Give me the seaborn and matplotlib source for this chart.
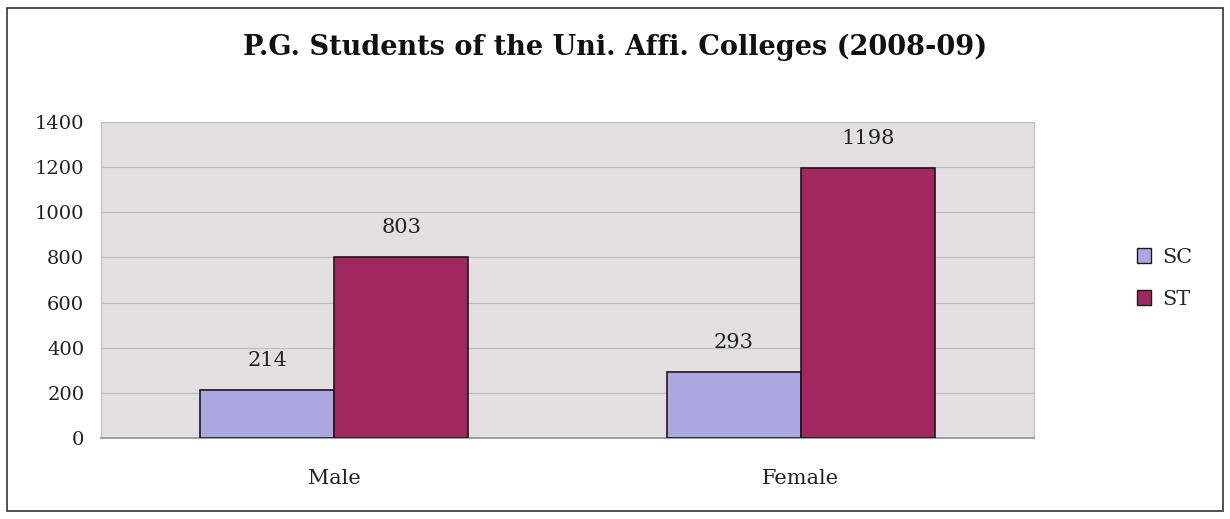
import matplotlib
matplotlib.use("Agg")
import matplotlib.pyplot as plt
import seaborn as sns
import pandas as pd
from matplotlib.patches import Rectangle

categories = ["Male", "Female"]
series_names = ["SC", "ST"]
sc_values = [214, 293]
st_values = [803, 1198]
y_ticks = [0, 200, 400, 600, 800, 1000, 1200, 1400]
title = "P.G. Students of the Uni. Affi. Colleges (2008-09)"

df = pd.DataFrame({
    "Gender": categories * 2,
    "Group": [series_names[0]] * 2 + [series_names[1]] * 2,
    "Count": sc_values + st_values,
})

sns.set_theme(style="white")
plt.rcParams["font.family"] = ["DejaVu Serif"]

fig = plt.figure(figsize=(12.3, 5.19), dpi=100)
ax = fig.add_axes([0.0821, 0.156, 0.7586, 0.609])

palette = {"SC": "#aaa8de", "ST": "#a0285f"}
sns.barplot(data=df, x="Gender", y="Count", hue="Group", order=categories,
            hue_order=series_names, palette=palette, width=0.575,
            edgecolor="#1a1a1a", linewidth=1.2, saturation=1, ax=ax, zorder=3)

ax.set_facecolor("#e2dee2")
ax.set_ylim(0, 1400)
ax.set_yticks(y_ticks)
ax.set_xlim(-0.5, 1.5)
ax.yaxis.grid(True, color="#bdbab8", linewidth=0.8, zorder=0)
ax.set_axisbelow(True)
for s in ["top", "right", "left"]:
    ax.spines[s].set_visible(True)
    ax.spines[s].set_color("#c0bcc0")
    ax.spines[s].set_linewidth(0.8)
ax.spines["bottom"].set_color("#909090")
ax.spines["bottom"].set_linewidth(1.2)
ax.tick_params(axis="y", labelsize=14, colors="#222222", length=0, pad=12)
ax.tick_params(axis="x", labelsize=15, colors="#222222", length=0, pad=22)
ax.set_xlabel("")
ax.set_ylabel("")

for cont in ax.containers:
    ax.bar_label(cont, fmt="%d", padding=14, fontsize=15, color="#222222")

leg = ax.legend(loc="center left", bbox_to_anchor=(1.09, 0.505), frameon=False,
                fontsize=15, handlelength=0.7, handleheight=0.7, handletextpad=0.5,
                labelspacing=1.1)
for h in leg.legend_handles:
    h.set_edgecolor("#1a1a1a")
    h.set_linewidth(1.0)

fig.text(0.5, 0.908, title, ha="center", va="center", fontsize=19.5,
         fontweight="bold", color="#111111")

fig.patches.append(Rectangle((0.006, 0.015), 0.988, 0.97, transform=fig.transFigure,
                             fill=False, edgecolor="#333333", linewidth=1.2))

fig.savefig("out.png", dpi=100)
